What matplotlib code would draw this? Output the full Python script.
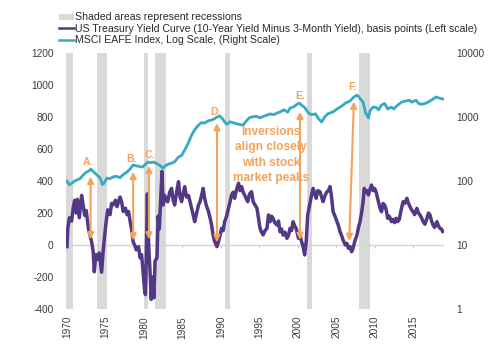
import numpy as np
import matplotlib
matplotlib.use("Agg")
from matplotlib import pyplot as plt
from matplotlib.patches import Patch
from matplotlib.lines import Line2D
from matplotlib.ticker import FixedLocator, FixedFormatter

plt.rcParams['font.family'] = ['Liberation Sans', 'DejaVu Sans']
plt.rcParams['axes.unicode_minus'] = False

# 10yr minus 3mo treasury spread, basis points
yc_years = [1970.0, 1970.1, 1970.3, 1970.6, 1970.8, 1971.0, 1971.2, 1971.35, 1971.6, 1971.9,
            1972.1, 1972.3, 1972.5, 1972.8, 1973.0, 1973.2, 1973.4, 1973.55, 1973.75, 1974.0,
            1974.2, 1974.5, 1974.7, 1974.9, 1975.1, 1975.3, 1975.6, 1975.8, 1976.0, 1976.3,
            1976.5, 1976.7, 1976.9, 1977.1, 1977.3, 1977.6, 1977.8, 1978.0, 1978.2, 1978.4,
            1978.6, 1978.8, 1979.0, 1979.3, 1979.5, 1979.7, 1979.9, 1980.1, 1980.2, 1980.3,
            1980.45, 1980.6, 1980.8, 1980.95, 1981.1, 1981.3, 1981.45, 1981.7, 1981.85, 1982.0,
            1982.2, 1982.35, 1982.5, 1982.7, 1982.9, 1983.1, 1983.35, 1983.6, 1983.8, 1984.0,
            1984.25, 1984.5, 1984.7, 1984.9, 1985.1, 1985.3, 1985.55, 1985.8, 1986.0, 1986.2,
            1986.4, 1986.6, 1986.9, 1987.1, 1987.3, 1987.5, 1987.7, 1987.9, 1988.1, 1988.4,
            1988.6, 1988.8, 1989.0, 1989.2, 1989.5, 1989.7, 1989.9, 1990.1, 1990.3, 1990.5,
            1990.75, 1991.0, 1991.2, 1991.4, 1991.6, 1991.8, 1992.0, 1992.3, 1992.5, 1992.7,
            1992.9, 1993.1, 1993.3, 1993.5, 1993.75, 1994.0, 1994.2, 1994.45, 1994.7, 1994.9,
            1995.1, 1995.3, 1995.5, 1995.75, 1996.0, 1996.2, 1996.4, 1996.6, 1996.8, 1997.0,
            1997.3, 1997.5, 1997.7, 1997.9, 1998.1, 1998.35, 1998.6, 1998.8, 1999.0, 1999.2,
            1999.4, 1999.6, 1999.8, 2000.1, 2000.3, 2000.5, 2000.7, 2000.9, 2001.1, 2001.3,
            2001.55, 2001.8, 2002.0, 2002.2, 2002.4, 2002.6, 2002.9, 2003.1, 2003.3, 2003.55,
            2003.8, 2004.0, 2004.2, 2004.4, 2004.6, 2004.85, 2005.1, 2005.3, 2005.5, 2005.7,
            2005.9, 2006.2, 2006.4, 2006.6, 2006.8, 2007.0, 2007.2, 2007.4, 2007.7, 2007.9,
            2008.1, 2008.3, 2008.5, 2008.65, 2008.8, 2009.0, 2009.2, 2009.4, 2009.6, 2009.8,
            2010.0, 2010.2, 2010.5, 2010.7, 2010.9, 2011.1, 2011.3, 2011.5, 2011.7, 2011.9,
            2012.2, 2012.4, 2012.6, 2012.8, 2013.0, 2013.2, 2013.45, 2013.7, 2013.9, 2014.2,
            2014.4, 2014.6, 2014.8, 2015.0, 2015.2, 2015.5, 2015.7, 2015.9, 2016.1, 2016.3,
            2016.55, 2016.8, 2017.0, 2017.2, 2017.4, 2017.6, 2017.8, 2018.1, 2018.3, 2018.5,
            2018.7, 2018.85]
yc_bp = [-10, 100, 170, 150, 230, 280, 200, 285, 170, 310,
         250, 185, 215, 100, 60, 20, -40, -167, -60, -90,
         -50, -170, -40, 60, 150, 220, 190, 260, 250, 280,
         240, 270, 300, 270, 210, 230, 190, 210, 150, 100,
         20, 0, -30, -10, -80, -60, -170, -290, -310, -100,
         320, 20, -170, -340, -200, -330, -100, -80, 180, 100,
         300, 460, 250, 310, 280, 270, 330, 354, 280, 250,
         330, 396, 300, 271, 320, 365, 300, 310, 270, 229,
         190, 146, 208, 250, 271, 310, 354, 292, 250, 208,
         170, 125, 60, 21, -10, 21, 60, 104, 90, 146,
         180, 229, 270, 313, 330, 292, 340, 386, 340, 365,
         330, 313, 290, 271, 320, 333, 271, 250, 230, 167,
         104, 80, 63, 90, 104, 188, 146, 180, 167, 140,
         125, 150, 83, 100, 62, 80, 42, 60, 104, 90,
         146, 120, 104, 42, 60, 21, -10, -62, 21, 188,
         250, 313, 354, 320, 292, 340, 333, 300, 271, 310,
         333, 340, 365, 300, 208, 180, 146, 120, 83, 60,
         31, 0, 10, -21, -10, -42, -20, 20, 62, 110,
         146, 200, 271, 354, 330, 340, 313, 350, 375, 340,
         354, 330, 271, 230, 208, 260, 250, 220, 167, 180,
         146, 160, 140, 167, 146, 160, 220, 271, 260, 292,
         260, 240, 220, 208, 190, 229, 200, 188, 170, 146,
         130, 167, 200, 188, 150, 125, 110, 146, 120, 104,
         100, 85]

# MSCI EAFE price index (log, right scale)
eafe_years = [1970.0, 1970.3, 1970.6, 1971.0, 1971.3, 1971.7, 1972.1, 1972.5, 1972.9, 1973.1,
              1973.4, 1973.9, 1974.3, 1974.6, 1974.8, 1975.2, 1975.6, 1976.0, 1976.4, 1976.9,
              1977.3, 1977.8, 1978.2, 1978.6, 1979.0, 1979.5, 1979.8, 1980.1, 1980.5, 1980.8,
              1981.2, 1981.6, 1982.0, 1982.5, 1982.8, 1983.2, 1983.6, 1984.0, 1984.5, 1984.9,
              1985.3, 1985.7, 1986.2, 1986.6, 1987.1, 1987.5, 1987.9, 1988.3, 1988.8, 1989.2,
              1989.5, 1989.9, 1990.2, 1990.5, 1990.8, 1991.2, 1991.8, 1992.3, 1992.9, 1993.3,
              1993.7, 1994.0, 1994.6, 1995.1, 1995.6, 1996.0, 1996.4, 1996.9, 1997.3, 1997.7,
              1998.2, 1998.7, 1999.0, 1999.5, 1999.9, 2000.2, 2000.5, 2000.9, 2001.4, 2001.8,
              2002.3, 2002.7, 2003.1, 2003.5, 2003.9, 2004.2, 2004.7, 2005.1, 2005.5, 2005.9,
              2006.3, 2006.6, 2006.9, 2007.3, 2007.7, 2007.9, 2008.2, 2008.5, 2008.8, 2009.2,
              2009.4, 2009.8, 2010.2, 2010.5, 2010.9, 2011.3, 2011.7, 2012.2, 2012.5, 2012.9,
              2013.5, 2014.0, 2014.5, 2014.8, 2015.4, 2015.7, 2016.1, 2016.6, 2017.0, 2017.5,
              2018.0, 2018.3, 2018.6, 2018.85]
eafe_idx = [100, 87, 92, 100, 104, 109, 124, 137, 145, 154,
            141, 124, 112, 88, 92, 111, 109, 116, 119, 113,
            126, 138, 154, 178, 173, 168, 165, 178, 198, 194,
            198, 190, 178, 159, 173, 184, 190, 200, 237, 251,
            306, 376, 520, 631, 750, 818, 804, 866, 898, 944,
            1000, 1030, 944, 837, 771, 842, 804, 771, 750, 866,
            970, 1000, 1030, 970, 1030, 1072, 1117, 1090, 1155, 1197,
            1296, 1190, 1377, 1450, 1585, 1650, 1540, 1410, 1155, 1090,
            1122, 944, 837, 1000, 1122, 1155, 1225, 1334, 1430, 1540,
            1680, 1726, 1830, 2054, 2200, 2113, 1880, 1710, 1190, 966,
            1260, 1430, 1410, 1296, 1540, 1630, 1334, 1430, 1334, 1500,
            1710, 1778, 1830, 1710, 1830, 1630, 1585, 1630, 1726, 1880,
            2054, 1995, 1950, 1920]

# US recessions (start, end)
rec_start = [1969.92, 1973.84, 1980.0, 1981.5, 1990.5, 2001.17, 2007.92]
rec_end = [1970.83, 1975.17, 1980.5, 1982.84, 1991.17, 2001.84, 2009.42]

# inversion markers: label, x top, x bottom, top (left-scale units), bottom, label x, label y
mark_labels = ["A.", "B.", "C.", "D.", "E.", "F."]
mark_x_top = [1973.07, 1978.6, 1980.66, 1989.5, 2000.3, 2007.3]
mark_x_bot = [1973.07, 1978.6, 1980.66, 1989.5, 2000.3, 2006.7]
mark_top = [427, 458, 494, 762, 833, 896]
mark_bot = [35, 28, 35, 18, 31, 25]
mark_lx = [1972.7, 1978.4, 1980.8, 1989.3, 2000.3, 2007.1]
mark_ly = [519, 538, 563, 831, 931, 990]

purple = "#533985"
cyan = "#37A9C4"
orange = "#F3A35C"
grey_txt = "#3c3c3c"

fig = plt.figure(figsize=(5, 3.56), dpi=100)
ax = fig.add_axes([0.132, 0.132, 0.756, 0.719])
ax2 = ax.twinx()

for s, e in zip(rec_start, rec_end):
    ax.axvspan(s, e, color="#d9d9d9", lw=0, zorder=0)
ax.axhline(0, color="#d4d4d4", lw=1, zorder=1)
ax.plot(yc_years, yc_bp, color=purple, lw=2.5, zorder=3)

ax2.plot(eafe_years, eafe_idx, color=cyan, lw=2.0, zorder=3)
ax2.set_yscale("log")
ax2.set_ylim(1, 10000)

ax.set_xlim(1969.87, 2019.02)
ax.set_ylim(-400, 1200)
ax.set_yticks(np.arange(-400, 1201, 200))

yrs = np.arange(1970, 2016, 5)
ax.set_xticks(yrs)
ax.set_xticklabels([str(y) for y in yrs], rotation=90)
ax.tick_params(axis="both", length=0, labelsize=7.3, labelcolor=grey_txt)
ax.tick_params(axis="y", pad=9)
ax.tick_params(axis="x", pad=5)

rticks = [1, 10, 100, 1000, 10000]
ax2.yaxis.set_major_locator(FixedLocator(rticks))
ax2.yaxis.set_major_formatter(FixedFormatter([str(t) for t in rticks]))
ax2.yaxis.set_minor_locator(FixedLocator([]))
ax2.tick_params(axis="y", length=0, labelsize=7.3, labelcolor=grey_txt, pad=9)

for a in (ax, ax2):
    for sp in a.spines.values():
        sp.set_visible(False)

# little ticks sitting on the zero line
sec = ax.secondary_xaxis(0.25)
sec.set_xticks(yrs)
sec.tick_params(axis="x", length=2, color="#c8c8c8", labelbottom=False)
sec.spines["bottom"].set_visible(False)

for lab, xt, xb, yt, yb, lx, ly in zip(mark_labels, mark_x_top, mark_x_bot, mark_top, mark_bot, mark_lx, mark_ly):
    ax2.annotate("", xy=(xt, yt), xytext=(xb, yb), xycoords=ax.transData, textcoords=ax.transData,
                 arrowprops=dict(arrowstyle="<|-|>", color=orange, lw=1.5, mutation_scale=9,
                                 shrinkA=0, shrinkB=0), zorder=5)
    ax2.text(lx, ly, lab, transform=ax.transData, color=orange, fontsize=7.5, fontweight="bold",
             ha="center", va="center", zorder=5)

ax2.text(1996.5, 562, "Inversions\nalign closely\nwith stock\nmarket peaks", transform=ax.transData,
         color=orange, fontsize=8.6, fontweight="bold", ha="center", va="center", linespacing=1.38, zorder=5)

handles = [Patch(facecolor="#d9d9d9", edgecolor="none"),
           Line2D([], [], color=purple, lw=1.8),
           Line2D([], [], color=cyan, lw=1.8)]
labels = ["Shaded areas represent recessions",
          "US Treasury Yield Curve (10-Year Yield Minus 3-Month Yield), basis points (Left scale)",
          "MSCI EAFE Index, Log Scale, (Right Scale)"]
fig.legend(handles, labels, loc="upper left", bbox_to_anchor=(0.117, 0.965), frameon=False,
           fontsize=7.6, handlelength=1.45, handleheight=0.5, handletextpad=0.1, labelspacing=0.12,
           borderaxespad=0, borderpad=0, labelcolor="#2a2a2a")

fig.savefig("out.png", dpi=100)
